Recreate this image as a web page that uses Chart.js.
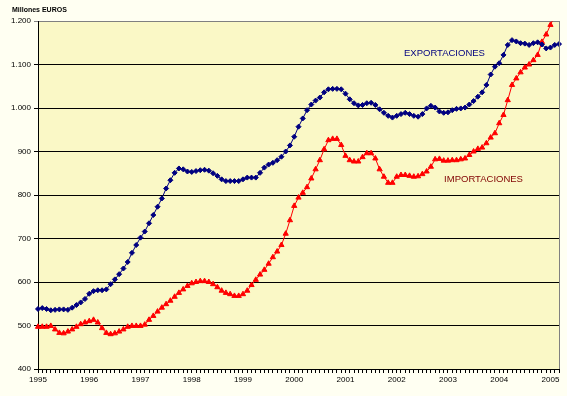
<!DOCTYPE html>
<html>
<head>
<meta charset="utf-8">
<script src="https://cdn.jsdelivr.net/npm/chart.js@4"></script>
<style>
    body { margin: 0; background: #FFFFF2; }
    canvas { display: block; }
</style>
</head>
<body>
<canvas id="chart" width="567" height="396"></canvas>
<script>
// Datos (millones de euros, mensual ene-1995 a mar-2005)
const years = ['1995', '1996', '1997', '1998', '1999', '2000', '2001', '2002', '2003', '2004', '2005'];
const yTicks = [400, 500, 600, 700, 800, 900, 1000, 1100, 1200];

const exportaciones = [
    538, 540, 538, 535, 536, 537, 537, 536, 541, 547, 553, 561,
    573, 579, 581, 581, 583, 595, 606, 618, 631, 646, 667, 685,
    702, 716, 735, 754, 773, 792, 815, 834, 851, 861, 859, 854,
    853, 855, 857, 858, 856, 850, 844, 836, 832, 832, 832, 832,
    836, 840, 840, 840, 851, 863, 870, 874, 880, 888, 900, 914,
    934, 957, 976, 995, 1008, 1017, 1024, 1036, 1043, 1044, 1044, 1043,
    1033, 1020, 1011, 1006, 1007, 1011, 1012, 1007, 997, 989, 982, 978,
    982, 986, 989, 986, 982, 980, 986, 999, 1005, 1001, 992, 989,
    990, 995, 998, 999, 1001, 1008, 1016, 1026, 1036, 1053, 1077, 1095,
    1103, 1122, 1145, 1156, 1153, 1149, 1148, 1145, 1149, 1151, 1146, 1137,
    1139, 1145, 1147
];

const importaciones = [
    497, 497, 497, 499, 491, 483, 482, 486, 491, 497, 503, 507,
    510, 513, 507, 494, 483, 480, 482, 486, 491, 497, 499, 499,
    499, 502, 513, 522, 532, 541, 549, 557, 566, 575, 583, 591,
    597, 600, 602, 602, 600, 595, 588, 580, 575, 572, 568, 568,
    572, 580, 593, 605, 617, 628, 642, 657, 670, 685, 711, 742,
    775, 794, 805, 818, 838, 859, 880, 905, 926, 929, 929, 915,
    890, 880, 877, 877, 887, 896, 896, 884, 859, 842, 828, 828,
    842, 846, 846, 844, 842, 843, 848, 854, 865, 882, 883, 879,
    879, 880, 880, 882, 884, 892, 900, 906, 909, 919, 932, 942,
    965, 984, 1018, 1053, 1068, 1082, 1093, 1100, 1110, 1122, 1152, 1169,
    1191, 1212, 1232
];

// Categorías mensuales
const meses = [];
years.forEach(y => {
    for (let m = 1; m <= 12; m++) meses.push(y + '-' + String(m).padStart(2, '0'));
});
const labels = meses.slice(0, exportaciones.length);

function formatMiles(v) {
    return String(v).replace(/\B(?=(\d{3})+(?!\d))/g, '.');
}

// Fondo del área de trazado, marco y textos
const decoPlugin = {
    id: 'deco',
    beforeDraw(chart) {
        const { ctx, chartArea: a } = chart;
        ctx.save();
        ctx.fillStyle = '#FFFFF2';
        ctx.fillRect(0, 0, chart.width, chart.height);
        ctx.fillStyle = '#FAF8C6';
        ctx.fillRect(a.left, a.top, a.right - a.left, a.bottom - a.top);
        ctx.restore();
    },
    afterDraw(chart) {
        const { ctx, chartArea: a } = chart;
        const x = chart.scales.x, y = chart.scales.y;
        ctx.save();
        ctx.strokeStyle = '#808080';
        ctx.lineWidth = 1;
        ctx.beginPath();
        ctx.moveTo(Math.round(a.right) + 0.5, a.top);
        ctx.lineTo(Math.round(a.right) + 0.5, a.bottom);
        ctx.stroke();

        ctx.textBaseline = 'middle';
        ctx.textAlign = 'left';
        ctx.fillStyle = '#000000';
        ctx.font = 'bold 7px "Liberation Sans", Arial, sans-serif';
        ctx.fillText('Millones EUROS', 12, 10);

        ctx.font = '9.5px "Liberation Sans", Arial, sans-serif';
        ctx.fillStyle = '#000080';
        ctx.fillText('EXPORTACIONES', x.getPixelForValue(85.7), y.getPixelForValue(1126));
        ctx.fillStyle = '#800000';
        ctx.fillText('IMPORTACIONES', x.getPixelForValue(95.1), y.getPixelForValue(837));
        ctx.restore();
    }
};

new Chart(document.getElementById('chart'), {
    type: 'line',
    data: {
        labels: labels,
        datasets: [{
            label: 'EXPORTACIONES',
            data: exportaciones,
            borderColor: '#000080',
            backgroundColor: '#000080',
            borderWidth: 1,
            pointStyle: 'rectRot',
            pointRadius: 2.5,
            pointBorderWidth: 1,
            tension: 0
        }, {
            label: 'IMPORTACIONES',
            data: importaciones,
            borderColor: '#FF0000',
            backgroundColor: '#FF0000',
            borderWidth: 1,
            pointStyle: 'triangle',
            pointRadius: 3,
            pointBorderWidth: 1,
            tension: 0
        }]
    },
    options: {
        responsive: false,
        animation: false,
        layout: { padding: { top: 21, right: 8, bottom: 0, left: 0 } },
        plugins: {
            legend: { display: false },
            tooltip: { enabled: false }
        },
        scales: {
            x: {
                offset: false,
                afterFit: s => { s.height = 27; },
                border: { color: '#000000', width: 1 },
                grid: {
                    drawOnChartArea: false,
                    tickLength: 4,
                    color: '#000000'
                },
                ticks: {
                    autoSkip: false,
                    maxRotation: 0,
                    minRotation: 0,
                    padding: 2,
                    color: '#000000',
                    font: { family: '"Liberation Sans", Arial, sans-serif', size: 8 },
                    callback: (v, i) => (i % 12 === 0 ? years[i / 12] : '')
                }
            },
            y: {
                min: yTicks[0],
                max: yTicks[yTicks.length - 1],
                afterFit: s => { s.width = 38; },
                afterBuildTicks: s => { s.ticks = yTicks.map(v => ({ value: v })); },
                border: { color: '#000000', width: 1 },
                grid: {
                    tickLength: 4,
                    color: c => (c.tick && c.tick.value === 1200 ? '#808080' : '#000000')
                },
                ticks: {
                    padding: 3,
                    color: '#000000',
                    font: { family: '"Liberation Sans", Arial, sans-serif', size: 8 },
                    callback: v => formatMiles(v)
                }
            }
        }
    },
    plugins: [decoPlugin]
});
</script>
</body>
</html>
